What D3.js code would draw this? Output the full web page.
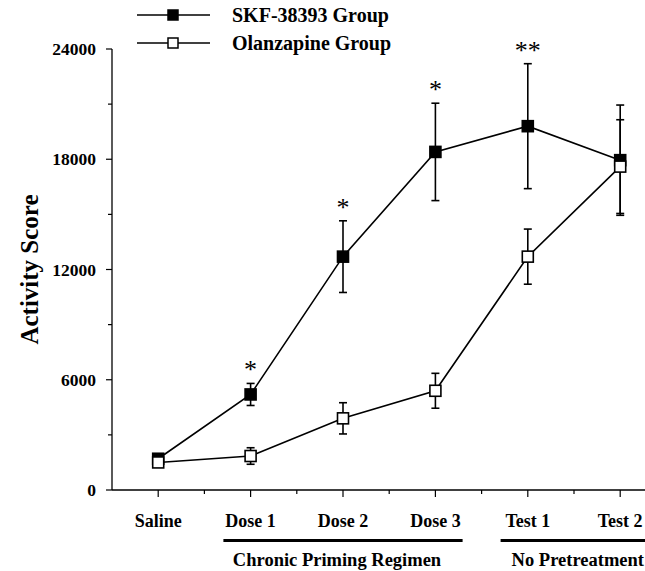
<!DOCTYPE html>
<html>
<head>
<meta charset="utf-8">
<script src="https://cdn.jsdelivr.net/npm/d3@7/dist/d3.min.js"></script>
<style>
  body { margin: 0; background: #fff; }
  svg { display: block; }
  text { font-family: "Liberation Serif", "Times New Roman", serif; fill: #000; }
</style>
</head>
<body>
<svg id="canvas"></svg>
<script>
// values
const categories = ['Saline', 'Dose 1', 'Dose 2', 'Dose 3', 'Test 1', 'Test 2']
const skfMean = [1700, 5200, 12700, 18400, 19800, 17950]
const skfErr = [150, 600, 1950, 2650, 3400, 3000]
const olzMean = [1500, 1850, 3900, 5400, 12700, 17600]
const olzErr = [150, 450, 850, 950, 1500, 2550]
const stars = ['', '*', '*', '*', '**', '']
const yTicks = [0, 6000, 12000, 18000, 24000]
const yMinorTicks = [3000, 9000, 15000, 21000]
const legendNames = ['SKF-38393 Group', 'Olanzapine Group']
const regimens = [
    { label: 'Chronic Priming Regimen', from: 'Dose 1', to: 'Dose 3' },
    { label: 'No Pretreatment', from: 'Test 1', to: 'Test 2' }
]

let width = 645
let height = 571
let svg = d3.select('#canvas')
svg.attr('width', width)
svg.attr('height', height)

let x0 = 112
let bandW = 92.4
let xScale = d3.scaleBand()
    .domain(categories)
    .range([x0, x0 + bandW * categories.length])

let yScale = d3.scaleLinear()
    .domain([0, 24000])
    .range([490, 49])

let cx = (c) => xScale(c) + xScale.bandwidth() / 2

// Axes
svg.append('line')
    .attr('x1', x0).attr('x2', x0)
    .attr('y1', yScale(24000)).attr('y2', yScale(0))
    .attr('stroke', '#000').attr('stroke-width', 1.3)
svg.append('line')
    .attr('x1', x0).attr('x2', width)
    .attr('y1', yScale(0)).attr('y2', yScale(0))
    .attr('stroke', '#000').attr('stroke-width', 1.3)

svg.selectAll('.ytick')
    .data(yTicks)
    .enter()
    .append('line')
    .attr('x1', x0 - 6).attr('x2', x0)
    .attr('y1', (d) => yScale(d)).attr('y2', (d) => yScale(d))
    .attr('stroke', '#000').attr('stroke-width', 1.2)
svg.selectAll('.yminor')
    .data(yMinorTicks)
    .enter()
    .append('line')
    .attr('x1', x0 - 4).attr('x2', x0)
    .attr('y1', (d) => yScale(d)).attr('y2', (d) => yScale(d))
    .attr('stroke', '#000').attr('stroke-width', 1.2)
svg.selectAll('.ylabel')
    .data(yTicks)
    .enter()
    .append('text')
    .attr('x', x0 - 16)
    .attr('y', (d) => yScale(d) + 6)
    .attr('text-anchor', 'end')
    .style('font-size', '17.5px')
    .style('font-weight', 'bold')
    .text((d) => d)

// x ticks: centres (major) and band edges (minor)
svg.selectAll('.xtick')
    .data(categories)
    .enter()
    .append('line')
    .attr('x1', (d) => cx(d)).attr('x2', (d) => cx(d))
    .attr('y1', yScale(0)).attr('y2', yScale(0) + 7)
    .attr('stroke', '#000').attr('stroke-width', 1.2)
svg.selectAll('.xminor')
    .data(categories)
    .enter()
    .append('line')
    .attr('x1', (d) => xScale(d) + bandW).attr('x2', (d) => xScale(d) + bandW)
    .attr('y1', yScale(0)).attr('y2', yScale(0) + 4)
    .attr('stroke', '#000').attr('stroke-width', 1.2)
svg.selectAll('.xlabel')
    .data(categories)
    .enter()
    .append('text')
    .attr('x', (d) => cx(d))
    .attr('y', 527)
    .attr('text-anchor', 'middle')
    .style('font-size', '18px')
    .style('font-weight', 'bold')
    .text((d) => d)

// regimen underlines
regimens.forEach((r) => {
    let xa = xScale(r.from) + 19
    let xb = r.to === 'Test 2' ? width : xScale(r.to) + bandW - 19
    svg.append('line')
        .attr('x1', xa).attr('x2', xb)
        .attr('y1', 540.5).attr('y2', 540.5)
        .attr('stroke', '#000').attr('stroke-width', 3.2)
    svg.append('text')
        .attr('x', r.to === 'Test 2' ? xa + 11 : (xa + xb) / 2 - 6)
        .attr('y', 566)
        .attr('text-anchor', r.to === 'Test 2' ? 'start' : 'middle')
        .style('font-size', '18.5px')
        .style('font-weight', 'bold')
        .text(r.label)
})

// y title
svg.append('text')
    .attr('transform', 'translate(38,' + yScale(12000) + ') rotate(-90)')
    .attr('text-anchor', 'middle')
    .style('font-size', '25px')
    .style('font-weight', 'bold')
    .text('Activity Score')

// series
let series = [
    { mean: skfMean, err: skfErr, fill: '#000' },
    { mean: olzMean, err: olzErr, fill: '#fff' }
]
let line = d3.line()
    .x((d, i) => cx(categories[i]))
    .y((d) => yScale(d))

series.forEach((s) => {
    svg.append('path')
        .attr('d', line(s.mean))
        .attr('fill', 'none')
        .attr('stroke', '#000')
        .attr('stroke-width', 1.6)
})

series.forEach((s) => {
    let g = svg.append('g')
    categories.forEach((c, i) => {
        let xc = cx(c)
        let top = yScale(s.mean[i] + s.err[i])
        let bot = yScale(s.mean[i] - s.err[i])
        g.append('line')
            .attr('x1', xc).attr('x2', xc).attr('y1', top).attr('y2', bot)
            .attr('stroke', '#000').attr('stroke-width', 1.6)
        ;[top, bot].forEach((yy) => {
            g.append('line')
                .attr('x1', xc - 4).attr('x2', xc + 4).attr('y1', yy).attr('y2', yy)
                .attr('stroke', '#000').attr('stroke-width', 1.6)
        })
    })
    g.selectAll('rect')
        .data(s.mean)
        .enter()
        .append('rect')
        .attr('x', (d, i) => cx(categories[i]) - 5.5)
        .attr('y', (d) => yScale(d) - 5.5)
        .attr('width', 11)
        .attr('height', 11)
        .attr('fill', s.fill)
        .attr('stroke', '#000')
        .attr('stroke-width', 1.6)
})

// significance marks
svg.selectAll('.star')
    .data(stars)
    .enter()
    .append('text')
    .attr('x', (d, i) => cx(categories[i]))
    .attr('y', (d, i) => yScale(skfMean[i] + skfErr[i]) - 5)
    .attr('text-anchor', 'middle')
    .style('font-size', '26px')
    .text((d) => d)

// legend
legendNames.forEach((name, i) => {
    let ly = 15 + i * 28
    svg.append('line')
        .attr('x1', 137).attr('x2', 210).attr('y1', ly).attr('y2', ly)
        .attr('stroke', '#000').attr('stroke-width', 1.6)
    svg.append('rect')
        .attr('x', 168).attr('y', ly - 5)
        .attr('width', 10).attr('height', 10)
        .attr('fill', series[i].fill)
        .attr('stroke', '#000').attr('stroke-width', 1.5)
    svg.append('text')
        .attr('x', 232).attr('y', ly + 7)
        .style('font-size', '20px')
        .style('font-weight', 'bold')
        .text(name)
})
</script>
</body>
</html>
